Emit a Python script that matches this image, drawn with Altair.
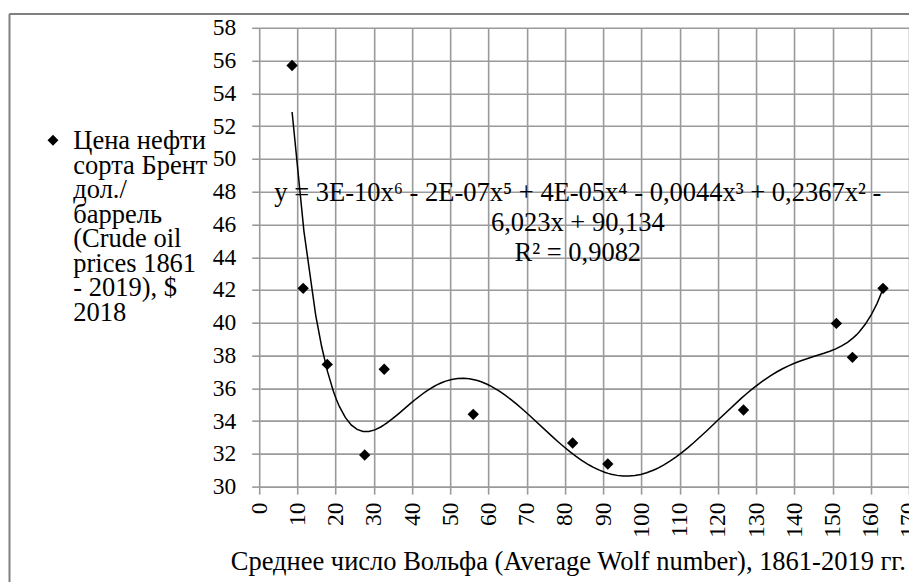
import altair as alt
import pandas as pd

# ---- data ----
wolf = [8.6, 11.5, 17.8, 27.6, 32.7, 56.0, 82.0, 91.2, 126.7, 151.0, 155.2, 163.2]
price = [55.7, 42.1, 37.46, 31.93, 37.16, 34.41, 32.66, 31.38, 34.68, 39.96, 37.89, 42.1]

x_ticks = list(range(0, 171, 10))
y_ticks = list(range(30, 59, 2))

legend_lines = ["Цена нефти", "сорта Брент", "дол./", "баррель",
                "(Crude oil", "prices 1861", "- 2019), $", "2018"]
equation_lines = ["y = 3E-10x⁶ - 2E-07x⁵ + 4E-05x⁴ - 0,0044x³ + 0,2367x² -",
                  "6,023x + 90,134",
                  "R² = 0,9082"]
x_title = "Среднее число Вольфа (Average Wolf number), 1861-2019 гг."

FONT = "serif"
FS_AX = 23.5
FS_TXT = 26.5
W, H = 650, 459

df = pd.DataFrame({"wolf": wolf, "price": price})

xs = alt.Scale(domain=[0, 170], nice=False, zero=False)
ys = alt.Scale(domain=[30, 58], nice=False, zero=False)

x_axis = alt.Axis(values=x_ticks, labelAngle=-90, labelPadding=8, tickSize=7.5,
                  title=None, domain=False, grid=True, labelOverlap=False, labelFlush=False,
                  labelFont=FONT, labelFontSize=FS_AX)
y_axis = alt.Axis(values=y_ticks, labelPadding=16, tickSize=7.5,
                  title=None, domain=False, grid=True, labelOverlap=False, labelFlush=False,
                  labelFont=FONT, labelFontSize=FS_AX)

base = alt.Chart(df)

points = base.mark_point(shape="diamond", filled=True, color="black", size=130, opacity=1).encode(
    x=alt.X("wolf:Q", scale=xs, axis=x_axis),
    y=alt.Y("price:Q", scale=ys, axis=y_axis),
)

trend = base.transform_regression("wolf", "price", method="poly", order=6).mark_line(
    color="black", strokeWidth=1.5
).encode(
    x=alt.X("wolf:Q", scale=xs, axis=x_axis),
    y=alt.Y("price:Q", scale=ys, axis=y_axis),
)

one = pd.DataFrame({"k": [0]})

equation = alt.Chart(one).mark_text(
    font=FONT, fontSize=FS_TXT, align="center", lineBreak="\n", lineHeight=30
).encode(
    x=alt.value(318.7), y=alt.value(165.3),
    text=alt.value("\n".join(equation_lines)),
)

legend_sym = alt.Chart(one).mark_point(shape="diamond", filled=True, color="black",
                                       size=120, opacity=1).encode(
    x=alt.value(-206.3), y=alt.value(112.6)
)

legend_text = alt.Chart(one).mark_text(
    font=FONT, fontSize=FS_TXT, align="left", lineBreak="\n", lineHeight=24.5
).encode(
    x=alt.value(-186), y=alt.value(113.5),
    text=alt.value("\n".join(legend_lines)),
)

title_text = alt.Chart(one).mark_text(
    font=FONT, fontSize=FS_TXT, align="center"
).encode(
    x=alt.value(309.2), y=alt.value(534.3),
    text=alt.value(x_title),
)

border_top = alt.Chart(one).mark_rule(color="#808080", strokeWidth=2).encode(
    x=alt.value(-250), x2=alt.value(W + 20), y=alt.value(-13.7)
)
border_left = alt.Chart(one).mark_rule(color="#808080", strokeWidth=2).encode(
    x=alt.value(-249.8), y=alt.value(-13.7), y2=alt.value(H + 120)
)

chart = alt.layer(
    trend, points, border_top, border_left, equation, legend_sym, legend_text, title_text
).properties(
    width=W, height=H,
    autosize=alt.AutoSizeParams(type="none"),
    padding={"left": 251.3, "top": 19.7, "right": 0, "bottom": 95},
).configure_view(
    strokeWidth=0
).configure_axis(
    labelColor="black",
    gridColor="#9a9a9a", gridWidth=1.6, gridOpacity=1,
    tickColor="#9a9a9a", tickWidth=1.6,
)

chart.save("out.html", embed_options={"renderer": "svg", "actions": False})
